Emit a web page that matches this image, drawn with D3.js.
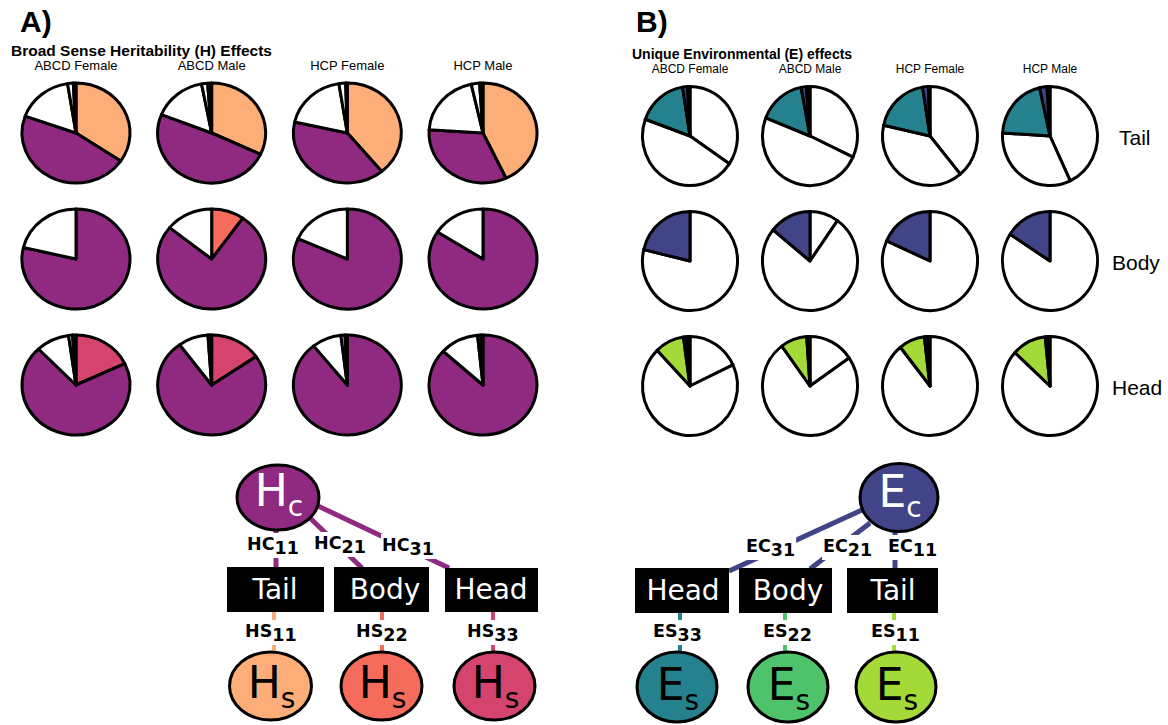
<!DOCTYPE html>
<html>
<head>
<meta charset="utf-8">
<script src="https://cdn.jsdelivr.net/npm/d3@7"></script>
<style>
  body { margin: 0; background: #fff; }
  svg { display: block; }
</style>
</head>
<body>
<svg id="fig" width="1168" height="725"></svg>
<script>
// ---- data: variance shares (%) per trait (rows) and cohort (columns) ----
const cohorts = ["ABCD Female", "ABCD Male", "HCP Female", "HCP Male"];
const traits = ["Tail", "Body", "Head"];
// specific heritability (HS)
const hsShare = [
  [34.5, 32.0, 39.0, 43.0],
  [0.0, 9.8, 0.0, 0.0],
  [18.0, 15.4, 0.0, 0.0]
];
// common heritability (HC)
const hcShare = [
  [46.0, 49.0, 39.5, 33.0],
  [78.7, 76.0, 81.7, 84.1],
  [69.8, 74.5, 89.3, 86.8]
];
// specific unique environment (ES)
const esShare = [
  [17.0, 16.0, 19.0, 20.5],
  [0.0, 0.0, 0.0, 0.0],
  [10.0, 9.0, 8.8, 11.6]
];
// common unique environment (EC)
const ecShare = [
  [1.7, 1.8, 2.0, 2.5],
  [21.3, 14.2, 18.3, 15.9],
  [1.2, 0.7, 1.2, 1.0]
];
// remaining share
const otherShare = [
  [0.8, 1.2, 0.5, 1.0],
  [0.0, 0.0, 0.0, 0.0],
  [1.0, 0.4, 0.7, 0.6]
];
const parts = ["hs", "hc", "es", "ec", "other"];
const shareTables = { hs: hsShare, hc: hcShare, es: esShare, ec: ecShare, other: otherShare };

// path-diagram labels
const hPaths = { common: ["HC", "11", "HC", "21", "HC", "31"], specific: ["HS", "11", "HS", "22", "HS", "33"] };
const ePaths = { common: ["EC", "31", "EC", "21", "EC", "11"], specific: ["ES", "33", "ES", "22", "ES", "11"] };

// ---- styling ----
const sans = "'Liberation Sans', Arial, Helvetica, sans-serif";
const dejavu = "'DejaVu Sans', Verdana, sans-serif";
const purple = "#8F2A80";
const navy = "#414487";
const hsColor = { Tail: "#FDAE78", Body: "#F56B5C", Head: "#D5446D" };
const esColor = { Tail: "#26818E", Body: "#4EC36B", Head: "#A4DA38" };

const svg = d3.select("#fig");

// ---- panel headings ----
svg.append("text").attr("x", 20).attr("y", 32)
  .attr("font-family", sans).attr("font-weight", "bold").attr("font-size", 30).text("A)");
svg.append("text").attr("x", 636).attr("y", 32)
  .attr("font-family", sans).attr("font-weight", "bold").attr("font-size", 30).text("B)");

const panels = [
  {
    title: "Broad Sense Heritability (H) Effects", titleX: 11, titleY: 56, titleSize: 15.5,
    colY: 70, colSize: 13,
    x: d3.scalePoint().domain(cohorts).range([76, 483]),
    y: d3.scalePoint().domain(traits).range([133, 385]),
    rx: 54, ry: 50,
    fill: (part, trait) => ({ hs: hsColor[trait], hc: purple, es: "#fff", ec: "#fff", other: "#000" })[part],
    rowLabels: false
  },
  {
    title: "Unique Environmental (E) effects", titleX: 632, titleY: 59, titleSize: 14,
    colY: 73, colSize: 12,
    x: d3.scalePoint().domain(cohorts).range([690, 1050]),
    y: d3.scalePoint().domain(traits).range([136, 386]),
    rx: 47.5, ry: 49.5,
    fill: (part, trait) => ({ hs: "#fff", hc: "#fff", es: esColor[trait], ec: navy, other: "#000" })[part],
    rowLabels: true
  }
];

const R = 50;
const arc = d3.arc().innerRadius(0).outerRadius(R);
const pie = d3.pie().sort(null).value(d => d.v);

panels.forEach(p => {
  svg.append("text").attr("x", p.titleX).attr("y", p.titleY)
    .attr("font-family", sans).attr("font-weight", "bold").attr("font-size", p.titleSize)
    .text(p.title);

  svg.append("g").selectAll("text").data(cohorts).join("text")
    .attr("x", d => p.x(d)).attr("y", p.colY)
    .attr("text-anchor", "middle").attr("font-family", sans).attr("font-size", p.colSize)
    .text(d => d);

  traits.forEach((trait, ti) => {
    cohorts.forEach((cohort, ci) => {
      const slices = parts.map(part => ({ part, v: shareTables[part][ti][ci] }))
        .filter(d => d.v > 0);
      const g = svg.append("g")
        .attr("transform", `translate(${p.x(cohort)},${p.y(trait)}) scale(${p.rx / R},${p.ry / R})`);
      g.selectAll("path").data(pie(slices)).join("path")
        .attr("d", arc)
        .attr("fill", d => p.fill(d.data.part, trait))
        .attr("stroke", "#000")
        .attr("stroke-width", 3)
        .attr("stroke-linejoin", "round")
        .attr("vector-effect", "non-scaling-stroke");
    });
  });

  if (p.rowLabels) {
    const rowX = { Tail: 1119, Body: 1112, Head: 1112 };
    svg.append("g").selectAll("text").data(traits).join("text")
      .attr("x", d => rowX[d]).attr("y", d => p.y(d) + 9)
      .attr("font-family", sans).attr("font-size", 21)
      .text(d => d);
  }
});

// ---- path diagrams ----
const diag = svg.append("g");
const lineLayer = diag.append("g");
const labelLayer = diag.append("g");
const nodeLayer = diag.append("g");

function path(x1, y1, x2, y2, color, w) {
  lineLayer.append("line")
    .attr("x1", x1).attr("y1", y1).attr("x2", x2).attr("y2", y2)
    .attr("stroke", color).attr("stroke-width", w);
}

function coef(x, y, main, sub) {
  const g = labelLayer.append("g");
  const t = g.append("text").attr("x", x).attr("y", y)
    .attr("font-family", dejavu).attr("font-weight", "bold").attr("font-size", 17.5);
  t.append("tspan").text(main);
  t.append("tspan").attr("dy", 4).text(sub);
  const b = t.node().getBBox();
  g.insert("rect", "text")
    .attr("x", b.x - 1).attr("y", b.y - 1)
    .attr("width", b.width + 2).attr("height", b.height + 1)
    .attr("fill", "#fff");
}

function latent(cx, cy, rx, ry, fill, letter, sub, ink, base) {
  nodeLayer.append("ellipse")
    .attr("cx", cx).attr("cy", cy).attr("rx", rx).attr("ry", ry)
    .attr("fill", fill).attr("stroke", "#000").attr("stroke-width", 3);
  const t = nodeLayer.append("text")
    .attr("x", cx + 1).attr("y", cy + base)
    .attr("text-anchor", "middle").attr("font-family", dejavu)
    .attr("font-size", 44).attr("fill", ink);
  t.append("tspan").text(letter);
  t.append("tspan").attr("font-size", 28).attr("dy", 10).text(sub);
}

function box(x0, x1, y0, y1, label, tx) {
  nodeLayer.append("rect")
    .attr("x", x0).attr("y", y0).attr("width", x1 - x0).attr("height", y1 - y0)
    .attr("fill", "#000");
  nodeLayer.append("text")
    .attr("x", tx).attr("y", y1 - 13.5)
    .attr("text-anchor", "middle").attr("font-family", dejavu)
    .attr("font-size", 28).attr("fill", "#fff").text(label);
}

// H side
path(276, 528, 276, 568, purple, 5);
path(310, 518, 362, 568, purple, 5);
path(318, 506, 449, 568, purple, 5);
path(274, 610, 274, 654, hsColor.Tail, 4);
path(382, 610, 382, 654, hsColor.Body, 4);
path(493, 610, 493, 654, hsColor.Head, 4);

coef(247, 550, hPaths.common[0], hPaths.common[1]);
coef(314, 549, hPaths.common[2], hPaths.common[3]);
coef(382, 551, hPaths.common[4], hPaths.common[5]);
coef(245, 637, hPaths.specific[0], hPaths.specific[1]);
coef(356, 637, hPaths.specific[2], hPaths.specific[3]);
coef(467, 637, hPaths.specific[4], hPaths.specific[5]);

latent(278, 497.5, 41, 32.5, purple, "H", "c", "#fff", 8);
box(227, 324, 567, 612, traits[0], 275);
box(334, 429, 567, 612, traits[1], 385);
box(445, 538, 568, 612, traits[2], 491);
latent(270.5, 686, 41, 34, hsColor.Tail, "H", "s", "#000", 12);
latent(381.5, 686, 40.5, 34, hsColor.Body, "H", "s", "#000", 12);
latent(494.5, 686, 40.5, 34, hsColor.Head, "H", "s", "#000", 12);

// E side
path(895, 530, 895, 569, navy, 5);
path(870, 523, 810, 569, navy, 5);
path(862, 510, 729, 571, navy, 5);
path(680, 611, 680, 654, esColor.Tail, 4);
path(785, 611, 785, 654, esColor.Body, 4);
path(894, 611, 894, 654, esColor.Head, 4);

coef(746, 552, ePaths.common[0], ePaths.common[1]);
coef(823, 552, ePaths.common[2], ePaths.common[3]);
coef(888, 552, ePaths.common[4], ePaths.common[5]);
coef(653, 637, ePaths.specific[0], ePaths.specific[1]);
coef(763, 637, ePaths.specific[2], ePaths.specific[3]);
coef(871, 637, ePaths.specific[4], ePaths.specific[5]);

latent(899, 497.5, 39, 34, navy, "E", "c", "#fff", 9);
box(635, 729, 568, 613, traits[2], 683);
box(739, 832, 568, 613, traits[1], 788);
box(847, 938, 568, 613, traits[0], 893);
latent(677, 687, 40, 35, esColor.Tail, "E", "s", "#000", 13);
latent(788, 687, 40, 35, esColor.Body, "E", "s", "#000", 13);
latent(896, 687, 40, 35, esColor.Head, "E", "s", "#000", 13);
</script>
</body>
</html>
